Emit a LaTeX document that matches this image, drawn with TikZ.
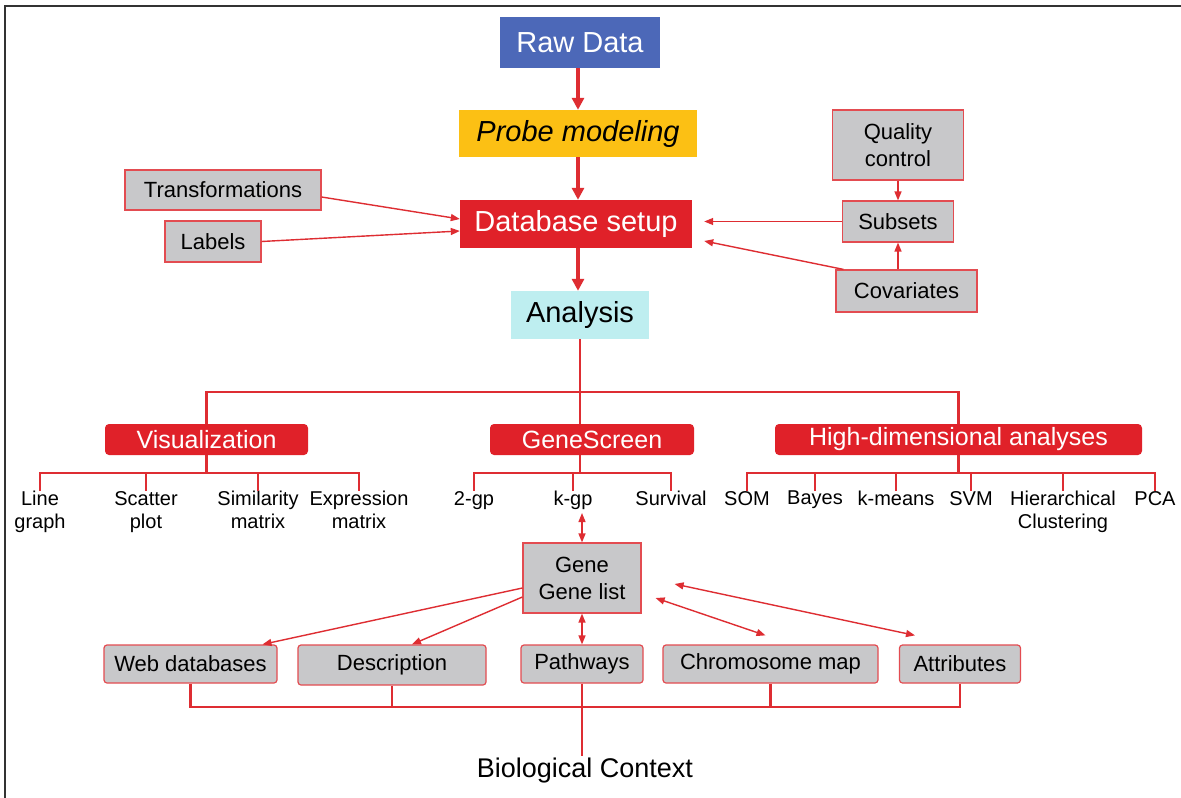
\documentclass[tikz,border=0pt]{standalone}
\usepackage{fontspec}
\setmainfont{Liberation Sans}
\usetikzlibrary{arrows.meta}
\definecolor{rawblue}{RGB}{76,104,184}
\definecolor{probeyel}{RGB}{252,192,20}
\definecolor{dbred}{RGB}{224,33,41}
\definecolor{anacyan}{RGB}{190,238,240}
\definecolor{boxgray}{RGB}{200,200,202}
\definecolor{linered}{RGB}{222,45,50}
\newcommand{\fs}[2]{\fontsize{#1}{#2}\selectfont}
\begin{document}
\begin{tikzpicture}[x=1pt,y=-1pt,
  mainbox/.style={inner sep=0pt, minimum height=48pt, align=center},
  catbox/.style={fill=dbred, text=white, rounded corners=4pt, inner sep=0pt, minimum height=31pt, font=\fs{25}{28}},
  graybox/.style={fill=boxgray, draw=linered!85, line width=1.2pt, inner sep=0pt, align=center, font=\fs{22}{27}},
  leaf/.style={anchor=north, inner sep=0pt, align=center, font=\fs{20}{23}},
  thickarr/.style={draw=linered, line width=4pt, -{Triangle[length=12pt,width=12pt]}},
  thinarr/.style={draw=linered, line width=1.4pt, -{Triangle[length=9pt,width=7pt]}},
  dblarr/.style={draw=linered, line width=1.4pt, {Triangle[length=9pt,width=7pt]}-{Triangle[length=9pt,width=7pt]}},
  tree/.style={draw=linered, line width=2.5pt},
  frame/.style={draw=black!80, line width=2pt}
]
\useasboundingbox (0,0) rectangle (1181,798);
\fill[white] (0,0) rectangle (1181,798);
\coordinate (f0) at (5,798);
\coordinate (f1) at (5,6);
\coordinate (f2) at (1181,6);
\draw[frame] (f0) -- (f1) -- (f2);

% main column
\node[mainbox, fill=rawblue, text=white, minimum width=160pt, minimum height=51pt, font=\fs{29}{34}] (raw) at (580,42.5) {Raw Data};
\node[mainbox, fill=probeyel, minimum width=238pt, minimum height=47pt, font=\fs{29}{34}\itshape] (probe) at (578,133.5) {Probe modeling};
\node[mainbox, fill=dbred, text=white, minimum width=232pt, font=\fs{29}{34}] (db) at (576,224) {Database setup};
\node[mainbox, fill=anacyan, minimum width=138pt, font=\fs{29}{34}] (ana) at (580,315) {Analysis};

\draw[thickarr] (raw.south -| probe) -- (probe.north);
\draw[thickarr] (probe.south) -- (probe.south |- db.north);
\draw[thickarr] (probe.south |- db.south) -- (probe.south |- ana.north);

% left inputs
\node[graybox, minimum width=196pt, minimum height=40pt] (trans) at (223,190) {Transformations};
\node[graybox, minimum width=96pt, minimum height=41pt] (lab) at (213,241.5) {Labels};
\draw[thinarr] ([yshift=-7pt]trans.east) -- ([yshift=5pt]db.west);
\draw[thinarr] (lab.east) -- ([yshift=-7pt]db.west);

% right inputs
\node[graybox, minimum width=131pt, minimum height=70pt] (qc) at (898,145) {Quality\\control};
\node[graybox, minimum width=111pt, minimum height=41pt] (sub) at (898,221.5) {Subsets};
\node[graybox, minimum width=141pt, minimum height=42pt] (cov) at (906.5,291) {Covariates};
\draw[thinarr] (qc.south) -- (sub.north);
\draw[thinarr] (sub.south |- cov.north) -- (sub.south);
\draw[thinarr, shorten >=12pt] (sub.west) -- (sub.west -| db.east);
\draw[thinarr] ([xshift=8pt]cov.north west) -- ([xshift=12pt,yshift=-17pt]db.east);

% analysis tree
\node[catbox, minimum width=203pt] (vis) at (206.5,439.5) {Visualization};
\node[catbox, minimum width=204pt] (gs) at (592,439.5) {GeneScreen};
\node[catbox, minimum width=367pt] (hd) at (958.5,439.5) {High-dimensional analyses};
\coordinate (bar) at (0,392);
\draw[tree] (vis.north) -- (vis.north |- bar) -- (hd.north |- bar) -- (hd.north);
\draw[tree] (ana.south) -- (ana.south |- gs.north);

\coordinate (sb) at (0,473);
% visualization leaves
\node[leaf] (lg) at (40,491) {Line\\graph};
\node[leaf] (sp) at (146,491) {Scatter\\plot};
\node[leaf] (sm) at (258,491) {Similarity\\matrix};
\node[leaf] (em) at (359,491) {Expression\\matrix};
\draw[tree] (vis.south) -- (vis.south |- sb);
\draw[tree] (lg.north) -- (lg.north |- sb) -- (em.north |- sb) -- (em.north);
\draw[tree] (sp.north) -- (sp.north |- sb);
\draw[tree] (sm.north) -- (sm.north |- sb);

% genescreen leaves
\node[leaf] (g2) at (474,491) {2-gp};
\node[leaf] (gk) at (573,491) {k-gp};
\node[leaf] (gsv) at (671,491) {Survival};
\draw[tree] (ana.south |- gs.south) -- (ana.south |- sb);
\draw[tree] (g2.north) -- (g2.north |- sb) -- (gsv.north |- sb) -- (gsv.north);
\draw[tree] (gk.north) -- (gk.north |- sb);

% high-dimensional leaves
\node[leaf] (som) at (747,491) {SOM};
\node[leaf] (bay) at (815,491) {Bayes};
\node[leaf] (km) at (896,491) {k-means};
\node[leaf] (svm) at (971,491) {SVM};
\node[leaf] (hc) at (1063,491) {Hierarchical\\Clustering};
\node[leaf] (pca) at (1155,491) {PCA};
\draw[tree] (hd.south) -- (hd.south |- sb);
\draw[tree] (som.north) -- (som.north |- sb) -- (pca.north |- sb) -- (pca.north);
\draw[tree] (bay.north) -- (bay.north |- sb);
\draw[tree] (km.north) -- (km.north |- sb);
\draw[tree] (svm.north) -- (svm.north |- sb);
\draw[tree] (hc.north) -- (hc.north |- sb);

% gene list
\node[graybox, minimum width=118pt, minimum height=70pt] (gene) at (582,578) {Gene\\Gene list};
\draw[dblarr, shorten <=3pt] (gk.south -| gene.north) -- (gene.north);

% bottom boxes
\node[graybox, rounded corners=3pt, minimum width=173pt, minimum height=38pt] (web) at (190.5,664) {Web databases};
\node[graybox, rounded corners=3pt, minimum width=188pt, minimum height=40pt] (desc) at (392,665) {Description};
\node[graybox, rounded corners=3pt, minimum width=122pt, minimum height=38pt] (path) at (582,664) {Pathways};
\node[graybox, rounded corners=3pt, minimum width=215pt, minimum height=38pt] (chrom) at (770.5,664) {Chromosome map};
\node[graybox, rounded corners=3pt, minimum width=121pt, minimum height=38pt] (attr) at (960,664) {Attributes};

\draw[thinarr] ([yshift=-10pt]gene.west) -- ([xshift=72pt]web.north);
\draw[thinarr] ([yshift=-19pt]gene.west) -- ([xshift=20pt]desc.north);
\draw[dblarr] (gene.south) -- (path.north);
\draw[dblarr] ([xshift=14pt,yshift=-20pt]gene.east) -- ([xshift=-5pt,yshift=9pt]chrom.north);
\draw[dblarr] ([xshift=33pt,yshift=-6pt]gene.east) -- ([xshift=-45pt,yshift=9pt]attr.north);

% biological context
\node[inner sep=2pt, font=\fs{27}{32}] (bio) at (585,771) {Biological Context};
\coordinate (bb) at (0,707);
\draw[tree] (web.south) -- (web.south |- bb) -- (attr.south |- bb) -- (attr.south);
\draw[tree] (desc.south) -- (desc.south |- bb);
\draw[tree] (chrom.south) -- (chrom.south |- bb);
\draw[tree] (path.south) -- (path.south |- bio.north);
\end{tikzpicture}
\end{document}
